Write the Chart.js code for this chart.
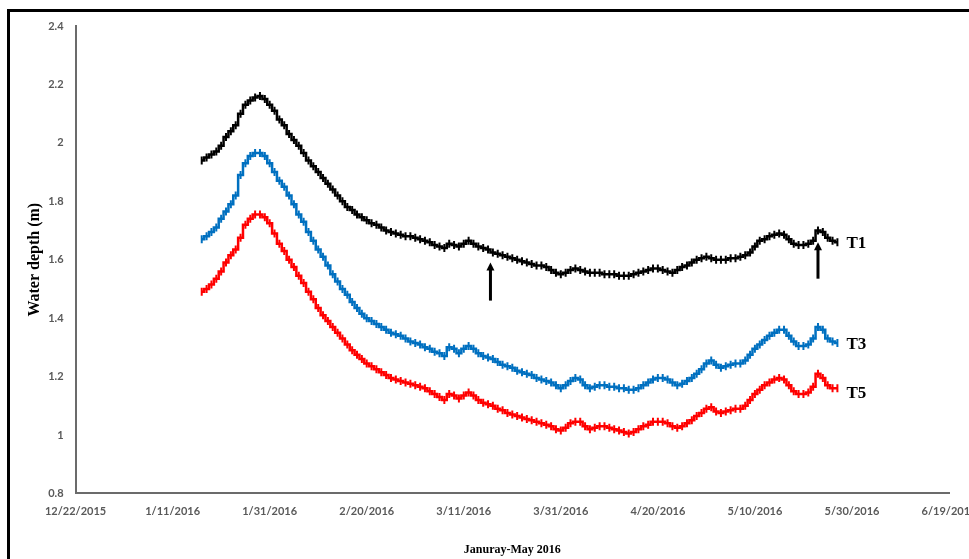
<!DOCTYPE html>
<html>
<head>
<meta charset="utf-8">
<script src="https://cdn.jsdelivr.net/npm/chart.js@4.4.1/dist/chart.umd.min.js"></script>
<style>
html, body { margin: 0; padding: 0; background: #fff; overflow: hidden; }
#frame { position: absolute; left: 7px; top: 9px; width: 1000px; height: 600px;
         border-top: 3px solid #000; border-left: 3px solid #000; }
#wrap { position: absolute; left: 0; top: 0; width: 1000px; height: 559px; }
</style>
</head>
<body>
<div id="frame"></div>
<div id="wrap"><canvas id="chart"></canvas></div>
<script>
// days counted from 12/22/2015, one reading a day from 1/17/2016 to 5/27/2016
var firstDay = 26;
var tickLabels = ['12/22/2015', '1/11/2016', '1/31/2016', '2/20/2016', '3/11/2016',
                  '3/31/2016', '4/20/2016', '5/10/2016', '5/30/2016', '6/19/2016'];
var seriesNames = ['T1', 'T3', 'T5'];

var t1 = [1.94,1.95,1.96,1.97,1.99,2.02,2.04,2.06,2.10,2.13,
          2.145,2.155,2.16,2.15,2.13,2.11,2.08,2.06,2.03,2.01,
          1.99,1.965,1.94,1.92,1.90,1.88,1.86,1.84,1.82,1.80,
          1.78,1.77,1.755,1.745,1.735,1.725,1.72,1.71,1.70,1.695,
          1.69,1.685,1.68,1.68,1.675,1.67,1.665,1.66,1.65,1.645,
          1.64,1.655,1.65,1.645,1.655,1.665,1.655,1.645,1.64,1.635,
          1.625,1.62,1.615,1.61,1.605,1.60,1.595,1.59,1.585,1.58,
          1.58,1.575,1.565,1.555,1.55,1.555,1.565,1.57,1.565,1.56,
          1.555,1.555,1.555,1.55,1.55,1.55,1.545,1.545,1.545,1.55,
          1.555,1.56,1.565,1.57,1.57,1.565,1.56,1.555,1.565,1.575,
          1.58,1.59,1.60,1.605,1.61,1.605,1.60,1.60,1.60,1.605,
          1.605,1.61,1.615,1.625,1.645,1.665,1.67,1.68,1.685,1.69,
          1.685,1.67,1.655,1.65,1.65,1.655,1.665,1.70,1.695,1.675,
          1.665,1.66];
var t3 = [1.67,1.68,1.695,1.71,1.74,1.765,1.79,1.82,1.89,1.93,
          1.955,1.965,1.965,1.955,1.93,1.90,1.87,1.85,1.82,1.79,
          1.755,1.73,1.695,1.665,1.635,1.61,1.58,1.55,1.525,1.50,
          1.48,1.455,1.435,1.415,1.40,1.39,1.38,1.37,1.36,1.35,
          1.345,1.34,1.33,1.32,1.315,1.31,1.30,1.295,1.285,1.28,
          1.27,1.30,1.295,1.28,1.295,1.305,1.295,1.28,1.27,1.265,
          1.26,1.25,1.24,1.235,1.23,1.22,1.215,1.21,1.205,1.195,
          1.19,1.185,1.18,1.17,1.16,1.17,1.185,1.195,1.19,1.17,
          1.16,1.165,1.17,1.17,1.165,1.165,1.16,1.16,1.155,1.155,
          1.16,1.17,1.18,1.19,1.195,1.195,1.19,1.18,1.17,1.175,
          1.185,1.195,1.21,1.225,1.245,1.255,1.24,1.23,1.235,1.24,
          1.245,1.245,1.255,1.275,1.295,1.31,1.325,1.34,1.35,1.36,
          1.36,1.34,1.32,1.305,1.305,1.31,1.33,1.37,1.36,1.33,
          1.32,1.315];
var t5 = [1.49,1.50,1.515,1.535,1.56,1.59,1.615,1.635,1.675,1.72,
          1.74,1.755,1.755,1.745,1.725,1.69,1.655,1.63,1.60,1.575,
          1.545,1.52,1.49,1.465,1.435,1.41,1.39,1.37,1.35,1.33,
          1.31,1.29,1.275,1.26,1.245,1.235,1.225,1.215,1.205,1.195,
          1.19,1.185,1.18,1.175,1.17,1.165,1.16,1.15,1.14,1.13,
          1.12,1.14,1.135,1.125,1.135,1.145,1.135,1.12,1.11,1.105,
          1.10,1.09,1.085,1.075,1.07,1.065,1.06,1.055,1.05,1.045,
          1.04,1.035,1.03,1.02,1.015,1.025,1.04,1.045,1.045,1.03,
          1.02,1.025,1.03,1.03,1.025,1.02,1.015,1.01,1.005,1.01,
          1.02,1.03,1.035,1.045,1.045,1.045,1.04,1.03,1.025,1.03,
          1.04,1.05,1.065,1.075,1.09,1.095,1.08,1.075,1.08,1.085,
          1.09,1.09,1.10,1.12,1.14,1.155,1.17,1.18,1.19,1.195,
          1.19,1.17,1.15,1.14,1.14,1.145,1.165,1.21,1.195,1.17,
          1.16,1.16];

// arrows: [day, bottom value, top value]
var arrowMarks = [[85.5, 1.46, 1.59], [153, 1.535, 1.66]];
// where the T labels sit: value on the y axis
var labelValues = [1.655, 1.31, 1.14];

var colors = ['#000000', '#0070c0', '#ff0000'];

function toPoints(vals)
{
    var pts = [];
    for (var i = 0; i < vals.length; i++)
        pts.push({ x: firstDay + i, y: vals[i] });
    return pts;
}

var datasets = [];
var allSeries = [t1, t3, t5];
for (var s = 0; s < allSeries.length; s++) {
    datasets.push({
        label: seriesNames[s],
        data: toPoints(allSeries[s]),
        borderColor: colors[s],
        backgroundColor: colors[s],
        borderWidth: 2.5,
        stepped: 'middle',
        pointStyle: 'line',
        pointRotation: 90,
        pointRadius: 4,
        pointBorderWidth: 2,
        pointBorderColor: colors[s],
        pointHoverRadius: 4,
        fill: false
    });
}

var extras = {
    id: 'extras',
    afterDatasetsDraw: function(chart) {
        var ctx = chart.ctx;
        var xs = chart.scales.x, ys = chart.scales.y;
        ctx.save();
        ctx.fillStyle = '#000';
        ctx.strokeStyle = '#000';
        for (var i = 0; i < arrowMarks.length; i++) {
            var ax = xs.getPixelForValue(arrowMarks[i][0]);
            var yb = ys.getPixelForValue(arrowMarks[i][1]);
            var yt = ys.getPixelForValue(arrowMarks[i][2]);
            ctx.lineWidth = 3;
            ctx.beginPath();
            ctx.moveTo(ax, yb);
            ctx.lineTo(ax, yt + 6);
            ctx.stroke();
            ctx.beginPath();
            ctx.moveTo(ax, yt);
            ctx.lineTo(ax - 4, yt + 8);
            ctx.lineTo(ax + 4, yt + 8);
            ctx.closePath();
            ctx.fill();
        }
        ctx.font = 'bold 17px "Liberation Serif"';
        ctx.textBaseline = 'middle';
        ctx.textAlign = 'left';
        var lastDay = firstDay + t1.length - 1;
        for (var j = 0; j < seriesNames.length; j++) {
            ctx.fillText(seriesNames[j], xs.getPixelForValue(lastDay) + 9,
                         ys.getPixelForValue(labelValues[j]));
        }
        ctx.restore();
    }
};

var tickFont = { family: 'Lato', weight: 'bold', size: 11 };

new Chart(document.getElementById('chart'), {
    type: 'line',
    data: { datasets: datasets },
    options: {
        responsive: true,
        maintainAspectRatio: false,
        animation: false,
        layout: { padding: { left: 25, right: 51, top: 26, bottom: 2 } },
        plugins: {
            legend: { display: false },
            tooltip: { enabled: false }
        },
        scales: {
            x: {
                type: 'linear',
                min: 0,
                max: 180,
                grid: { display: false },
                border: { display: true, color: '#6b6b6b', width: 2 },
                ticks: {
                    stepSize: 20,
                    color: '#595959',
                    font: tickFont,
                    padding: 3,
                    maxRotation: 0,
                    callback: function(value, index) { return tickLabels[index]; }
                },
                title: {
                    display: true,
                    text: 'Januray-May 2016',
                    color: '#000',
                    font: { family: 'Liberation Serif', weight: 'bold', size: 12 },
                    padding: { top: 22, bottom: 0 }
                }
            },
            y: {
                min: 0.8,
                max: 2.4,
                grid: { display: false },
                border: { display: true, color: '#6b6b6b', width: 2 },
                ticks: {
                    stepSize: 0.2,
                    color: '#595959',
                    font: tickFont,
                    padding: 4,
                    callback: function(value) { return String(Math.round(value * 10) / 10); }
                },
                title: {
                    display: true,
                    text: 'Water depth (m)',
                    color: '#000',
                    font: { family: 'Liberation Serif', weight: 'bold', size: 16 },
                    padding: { top: 0, bottom: 0 }
                }
            }
        }
    },
    plugins: [extras]
});
</script>
</body>
</html>
